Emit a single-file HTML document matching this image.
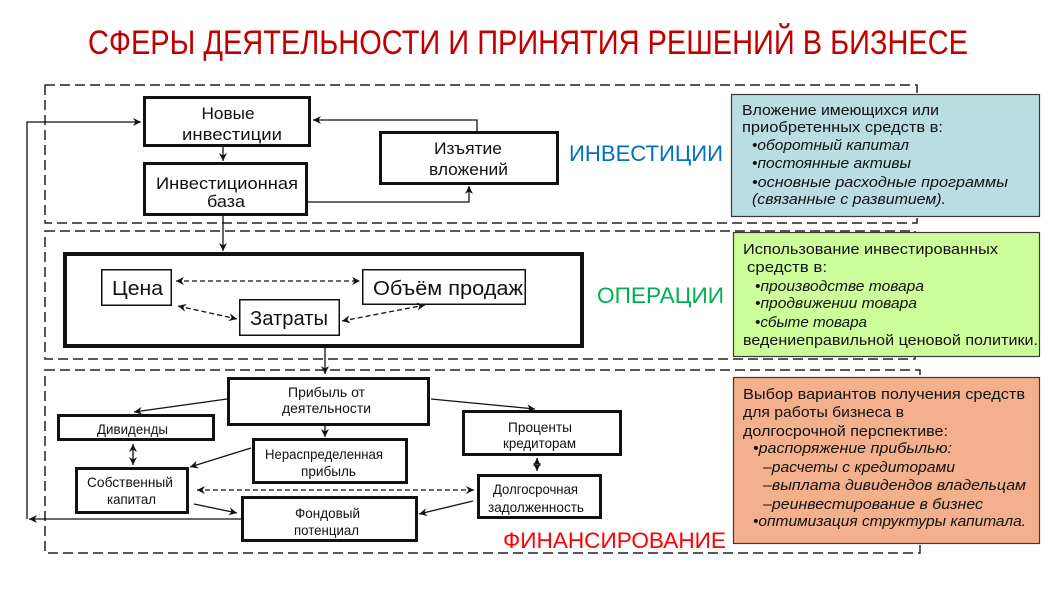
<!DOCTYPE html>
<html>
<head>
<meta charset="utf-8">
<style>
html,body{margin:0;padding:0;background:#fff;}
svg{display:block;}
text{font-family:"Liberation Sans","DejaVu Sans",sans-serif;}
</style>
</head>
<body>
<svg width="1060" height="592" viewBox="0 0 1060 592" xmlns="http://www.w3.org/2000/svg">
<defs>
<marker id="a" markerUnits="userSpaceOnUse" markerWidth="10" markerHeight="10" refX="8" refY="4" orient="auto">
<path d="M0,0 L8,4 L0,8 L2.5,4 z" fill="#111"/>
</marker>
<marker id="b" markerUnits="userSpaceOnUse" markerWidth="10" markerHeight="10" refX="8" refY="4" orient="auto-start-reverse">
<path d="M0,0 L8,4 L0,8 L2.5,4 z" fill="#111"/>
</marker>
</defs>
<rect width="1060" height="592" fill="#fff"/>

<!-- Title -->
<text x="528" y="54" font-size="34" fill="#c00000" text-anchor="middle" textLength="880" lengthAdjust="spacingAndGlyphs">СФЕРЫ ДЕЯТЕЛЬНОСТИ И ПРИНЯТИЯ РЕШЕНИЙ В БИЗНЕСЕ</text>

<!-- Dashed containers -->
<g fill="none" stroke="#222" stroke-width="1.5" stroke-dasharray="10,5">
<rect x="45" y="85" width="872" height="138"/>
<rect x="45" y="231" width="870" height="128"/>
<rect x="45" y="370" width="875" height="183"/>
</g>

<!-- Investment boxes -->
<g fill="#fff" stroke="#111" stroke-width="3">
<rect x="144.5" y="97.5" width="165" height="48"/>
<rect x="144.5" y="163.5" width="162" height="51"/>
<rect x="380.5" y="132.5" width="177" height="51"/>
</g>
<!-- Operations -->
<rect x="65" y="254" width="517" height="92" fill="#fff" stroke="#111" stroke-width="4"/>
<g fill="#fff" stroke="#111" stroke-width="1.5">
<rect x="101.75" y="269.75" width="69.5" height="35.5"/>
<rect x="362.75" y="269.75" width="162.5" height="34.5"/>
<rect x="239.75" y="299.75" width="99.5" height="35.5"/>
</g>
<!-- Finance boxes -->
<g fill="#fff" stroke="#111" stroke-width="3">
<rect x="228.5" y="378.5" width="200" height="46"/>
<rect x="58.5" y="415.5" width="155" height="24"/>
<rect x="253.5" y="439.5" width="153" height="43"/>
<rect x="463.5" y="411.5" width="157" height="43"/>
<rect x="76.5" y="468.5" width="111" height="44"/>
<rect x="478.5" y="475.5" width="122" height="42"/>
<rect x="242.5" y="497.5" width="174" height="43"/>
</g>

<!-- Connectors -->
<g fill="none" stroke="#111" stroke-width="1.3">
<line x1="241" y1="519" x2="29" y2="519" marker-end="url(#a)"/>
<path d="M27,519 L27,122 L141,122" marker-end="url(#a)"/>
<path d="M477,131 L477,120 L313,120" marker-end="url(#a)"/>
<line x1="223" y1="147" x2="223" y2="161" marker-end="url(#a)"/>
<path d="M308,202 L469,202 L469,186" marker-end="url(#a)"/>
<line x1="223" y1="216" x2="223" y2="251" marker-end="url(#a)"/>
<line x1="325" y1="348" x2="325" y2="374" marker-end="url(#a)"/>

<line x1="227" y1="399" x2="134" y2="412" marker-end="url(#a)"/>
<line x1="431" y1="399" x2="535" y2="409" marker-end="url(#a)"/>
<line x1="325" y1="426" x2="325" y2="437" marker-end="url(#a)"/>
<line x1="133" y1="444" x2="133" y2="465" marker-start="url(#b)" marker-end="url(#b)"/>
<line x1="251" y1="448" x2="190" y2="467" marker-end="url(#a)"/>
<line x1="537" y1="458" x2="537" y2="471" marker-start="url(#b)" marker-end="url(#b)"/>
<line x1="194" y1="504" x2="237" y2="513" marker-end="url(#a)"/>
<line x1="473" y1="501" x2="419" y2="514" marker-end="url(#a)"/>
</g>
<g fill="none" stroke="#111" stroke-width="1.3" stroke-dasharray="5,3">
<line x1="176" y1="281" x2="360" y2="281" marker-start="url(#b)" marker-end="url(#b)"/>
<line x1="178" y1="306" x2="237" y2="319" marker-start="url(#b)" marker-end="url(#b)"/>
<line x1="342" y1="321" x2="425" y2="305" marker-start="url(#b)" marker-end="url(#b)"/>
<line x1="197" y1="490" x2="474" y2="490" marker-start="url(#b)" marker-end="url(#b)"/>
</g>

<!-- Diagram labels -->
<g fill="#111" text-anchor="middle">
<text x="228" y="119" font-size="17" textLength="53" lengthAdjust="spacingAndGlyphs">Новые</text>
<text x="232" y="140" font-size="17" textLength="100" lengthAdjust="spacingAndGlyphs">инвестиции</text>
<text x="227" y="189" font-size="17" textLength="142" lengthAdjust="spacingAndGlyphs">Инвестиционная</text>
<text x="226" y="207" font-size="17" textLength="38" lengthAdjust="spacingAndGlyphs">база</text>
<text x="468" y="154" font-size="17" textLength="68" lengthAdjust="spacingAndGlyphs">Изъятие</text>
<text x="468.5" y="175" font-size="17" textLength="79" lengthAdjust="spacingAndGlyphs">вложений</text>

<text x="137.5" y="295" font-size="20" textLength="51" lengthAdjust="spacingAndGlyphs">Цена</text>
<text x="448" y="295" font-size="20" textLength="150" lengthAdjust="spacingAndGlyphs">Объём продаж</text>
<text x="289" y="325" font-size="20" textLength="78" lengthAdjust="spacingAndGlyphs">Затраты</text>

<text x="326.5" y="397" font-size="14" textLength="77" lengthAdjust="spacingAndGlyphs">Прибыль от</text>
<text x="326.5" y="413" font-size="14" textLength="89" lengthAdjust="spacingAndGlyphs">деятельности</text>
<text x="132.5" y="434" font-size="14" textLength="71" lengthAdjust="spacingAndGlyphs">Дивиденды</text>
<text x="324" y="459" font-size="14" textLength="118" lengthAdjust="spacingAndGlyphs">Нераспределенная</text>
<text x="328.5" y="476" font-size="14" textLength="55" lengthAdjust="spacingAndGlyphs">прибыль</text>
<text x="130" y="487" font-size="14" textLength="86" lengthAdjust="spacingAndGlyphs">Собственный</text>
<text x="131.5" y="504" font-size="14" textLength="49" lengthAdjust="spacingAndGlyphs">капитал</text>
<text x="327.5" y="518" font-size="14" textLength="65" lengthAdjust="spacingAndGlyphs">Фондовый</text>
<text x="326.5" y="535" font-size="14" textLength="65" lengthAdjust="spacingAndGlyphs">потенциал</text>
<text x="540" y="432" font-size="14" textLength="64" lengthAdjust="spacingAndGlyphs">Проценты</text>
<text x="539.5" y="448" font-size="14" textLength="73" lengthAdjust="spacingAndGlyphs">кредиторам</text>
<text x="535.5" y="494" font-size="14" textLength="85" lengthAdjust="spacingAndGlyphs">Долгосрочная</text>
<text x="536" y="512" font-size="14" textLength="96" lengthAdjust="spacingAndGlyphs">задолженность</text>
</g>

<!-- Section titles -->
<text x="646" y="161" font-size="22" fill="#0070c0" text-anchor="middle" textLength="154" lengthAdjust="spacingAndGlyphs">ИНВЕСТИЦИИ</text>
<text x="660.5" y="303" font-size="22" fill="#00b050" text-anchor="middle" textLength="127" lengthAdjust="spacingAndGlyphs">ОПЕРАЦИИ</text>
<text x="614.5" y="548" font-size="22" fill="#ff0000" text-anchor="middle" textLength="223" lengthAdjust="spacingAndGlyphs">ФИНАНСИРОВАНИЕ</text>

<!-- Info boxes -->
<rect x="731.5" y="94.5" width="308" height="122" fill="#b8dee2" stroke="#3a3a3a" stroke-width="1.2"/>
<rect x="733.5" y="232.5" width="306" height="124" fill="#ccff99" stroke="#3a3a3a" stroke-width="1.2"/>
<rect x="733.5" y="377.5" width="306" height="166" fill="#f4b08c" stroke="#3a3a3a" stroke-width="1.2"/>

<g fill="#111" font-size="14.5">
<text x="742" y="115" textLength="197" lengthAdjust="spacingAndGlyphs">Вложение имеющихся или</text>
<text x="742" y="132" textLength="201" lengthAdjust="spacingAndGlyphs">приобретенных средств в:</text>
<text x="752" y="150" font-style="italic" textLength="157" lengthAdjust="spacingAndGlyphs">•оборотный капитал</text>
<text x="752" y="168" font-style="italic" textLength="159" lengthAdjust="spacingAndGlyphs">•постоянные активы</text>
<text x="752" y="187" font-style="italic" textLength="256" lengthAdjust="spacingAndGlyphs">•основные расходные программы</text>
<text x="752" y="204" font-style="italic" textLength="194" lengthAdjust="spacingAndGlyphs">(связанные с развитием).</text>

<text x="743" y="254" textLength="255" lengthAdjust="spacingAndGlyphs">Использование инвестированных</text>
<text x="747" y="272" textLength="80" lengthAdjust="spacingAndGlyphs">средств в:</text>
<text x="755" y="291" font-style="italic" textLength="169" lengthAdjust="spacingAndGlyphs">•производстве товара</text>
<text x="755" y="308" font-style="italic" textLength="162" lengthAdjust="spacingAndGlyphs">•продвижении товара</text>
<text x="755" y="327" font-style="italic" textLength="112" lengthAdjust="spacingAndGlyphs">•сбыте товара</text>
<text x="743" y="345" textLength="295" lengthAdjust="spacingAndGlyphs">ведениеправильной ценовой политики.</text>

<text x="743" y="399" textLength="282" lengthAdjust="spacingAndGlyphs">Выбор вариантов получения средств</text>
<text x="743" y="417" textLength="161" lengthAdjust="spacingAndGlyphs">для работы бизнеса в</text>
<text x="743" y="436" textLength="205" lengthAdjust="spacingAndGlyphs">долгосрочной перспективе:</text>
<text x="753" y="453" font-style="italic" textLength="199" lengthAdjust="spacingAndGlyphs">•распоряжение прибылью:</text>
<text x="763" y="472" font-style="italic" textLength="192" lengthAdjust="spacingAndGlyphs">–расчеты с кредиторами</text>
<text x="763" y="490" font-style="italic" textLength="263" lengthAdjust="spacingAndGlyphs">–выплата дивидендов владельцам</text>
<text x="763" y="509" font-style="italic" textLength="220" lengthAdjust="spacingAndGlyphs">–реинвестирование в бизнес</text>
<text x="753" y="526" font-style="italic" textLength="273" lengthAdjust="spacingAndGlyphs">•оптимизация структуры капитала.</text>
</g>
</svg>
</body>
</html>
